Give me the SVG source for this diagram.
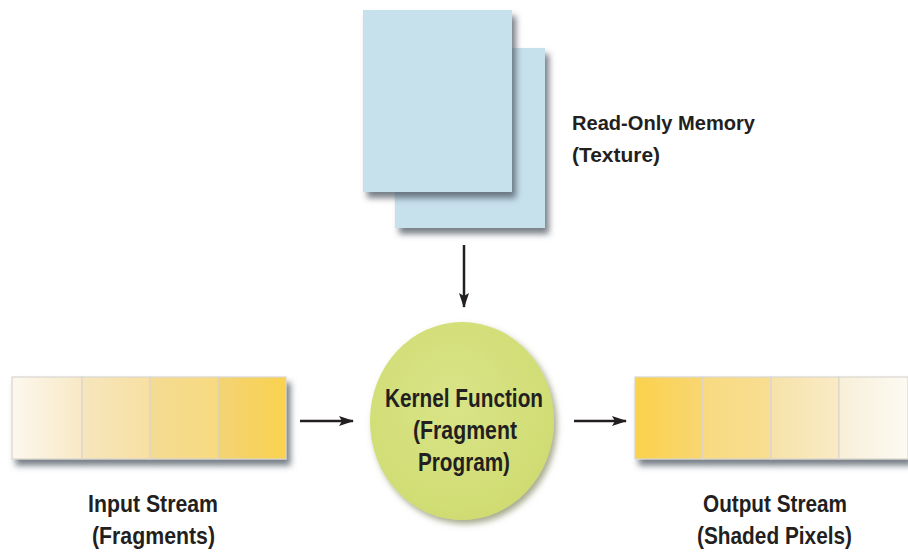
<svg xmlns="http://www.w3.org/2000/svg" width="908" height="553" viewBox="0 0 908 553">
<style>
.lbl{font-family:"Liberation Sans",Arial,sans-serif;font-weight:bold;fill:#231f20}
.s21{font-size:21px}
.s24{font-size:24px}
.s25{font-size:25px}
.ctr{text-anchor:middle}
.cell{stroke:#d9d6cf;stroke-width:1.2}
.conn{stroke:#231f20;stroke-width:2.5;fill:none}
</style>
<defs>
<filter id="sh" x="-10%" y="-10%" width="130%" height="130%">
<feDropShadow dx="4" dy="6" stdDeviation="3" flood-color="#4a5560" flood-opacity="0.75"/>
</filter>
<filter id="shc" x="-10%" y="-10%" width="130%" height="130%">
<feDropShadow dx="3" dy="4" stdDeviation="3" flood-color="#6b6f40" flood-opacity="0.6"/>
</filter>
<linearGradient id="g1" x1="0" x2="1"><stop offset="0" stop-color="#fcf8ee"/><stop offset="1" stop-color="#f8e9c6"/></linearGradient>
<linearGradient id="g2" x1="0" x2="1"><stop offset="0" stop-color="#f6e6bd"/><stop offset="1" stop-color="#f8e0a2"/></linearGradient>
<linearGradient id="g3" x1="0" x2="1"><stop offset="0" stop-color="#f4db93"/><stop offset="1" stop-color="#f8da80"/></linearGradient>
<linearGradient id="g4" x1="0" x2="1"><stop offset="0" stop-color="#f3d375"/><stop offset="1" stop-color="#fad24e"/></linearGradient>
<linearGradient id="h1" x1="0" x2="1"><stop offset="0" stop-color="#fbd24c"/><stop offset="1" stop-color="#f8d672"/></linearGradient>
<linearGradient id="h2" x1="0" x2="1"><stop offset="0" stop-color="#f7da80"/><stop offset="1" stop-color="#f9de92"/></linearGradient>
<linearGradient id="h3" x1="0" x2="1"><stop offset="0" stop-color="#f6e2a8"/><stop offset="1" stop-color="#faebc6"/></linearGradient>
<linearGradient id="h4" x1="0" x2="1"><stop offset="0" stop-color="#f8efd8"/><stop offset="1" stop-color="#fcfaf3"/></linearGradient>
<radialGradient id="gc" cx="0.45" cy="0.4" r="0.6"><stop offset="0" stop-color="#d9e488"/><stop offset="1" stop-color="#d0dc72"/></radialGradient>
<marker id="ah" viewBox="0 0 15 10" refX="14" refY="5" markerWidth="15" markerHeight="10" orient="auto" markerUnits="userSpaceOnUse">
<path d="M0,0 L15,5 L0,10 L3,5 Z" fill="#231f20"/>
</marker>
</defs>
<rect width="908" height="553" fill="#ffffff"/>

<g id="texture">
<rect x="395" y="48" width="150" height="180" fill="#c6e0ec" filter="url(#sh)"/>
<rect x="363" y="10" width="149" height="182" fill="#c6e0ec" filter="url(#sh)"/>
</g>
<g id="texture-label">
<text class="lbl s21" x="572" y="130" textLength="183" lengthAdjust="spacingAndGlyphs">Read-Only Memory</text>
<text class="lbl s21" x="572" y="162" textLength="88" lengthAdjust="spacingAndGlyphs">(Texture)</text>
</g>

<g id="input-stream">
<g filter="url(#sh)">
<rect class="cell" x="12" y="377" width="70" height="82" fill="url(#g1)"/>
<rect class="cell" x="82" y="377" width="68" height="82" fill="url(#g2)"/>
<rect class="cell" x="150" y="377" width="68" height="82" fill="url(#g3)"/>
<rect class="cell" x="218" y="377" width="68" height="82" fill="url(#g4)"/>
</g>
<text class="lbl s24" x="88" y="512" textLength="130" lengthAdjust="spacingAndGlyphs">Input Stream</text>
<text class="lbl s24" x="92" y="544" textLength="123" lengthAdjust="spacingAndGlyphs">(Fragments)</text>
</g>

<g id="kernel">
<ellipse cx="462" cy="421" rx="92" ry="99" fill="url(#gc)" filter="url(#shc)"/>
<text class="lbl s25" x="385" y="407" textLength="158" lengthAdjust="spacingAndGlyphs">Kernel Function</text>
<text class="lbl s25" x="413" y="439" textLength="104" lengthAdjust="spacingAndGlyphs">(Fragment</text>
<text class="lbl s25" x="418" y="471" textLength="92" lengthAdjust="spacingAndGlyphs">Program)</text>
</g>

<g id="output-stream">
<g filter="url(#sh)">
<rect class="cell" x="635" y="377" width="68" height="82" fill="url(#h1)"/>
<rect class="cell" x="703" y="377" width="68" height="82" fill="url(#h2)"/>
<rect class="cell" x="771" y="377" width="68" height="82" fill="url(#h3)"/>
<rect class="cell" x="839" y="377" width="69" height="82" fill="url(#h4)"/>
</g>
<text class="lbl s24" x="703" y="512" textLength="144" lengthAdjust="spacingAndGlyphs">Output Stream</text>
<text class="lbl s24" x="697" y="544" textLength="155" lengthAdjust="spacingAndGlyphs">(Shaded Pixels)</text>
</g>

<g id="connectors">
<line class="conn" x1="464" y1="245" x2="464" y2="307" marker-end="url(#ah)"/>
<line class="conn" x1="300" y1="421" x2="353" y2="421" marker-end="url(#ah)"/>
<line class="conn" x1="574" y1="421" x2="626" y2="421" marker-end="url(#ah)"/>
</g>
</svg>
